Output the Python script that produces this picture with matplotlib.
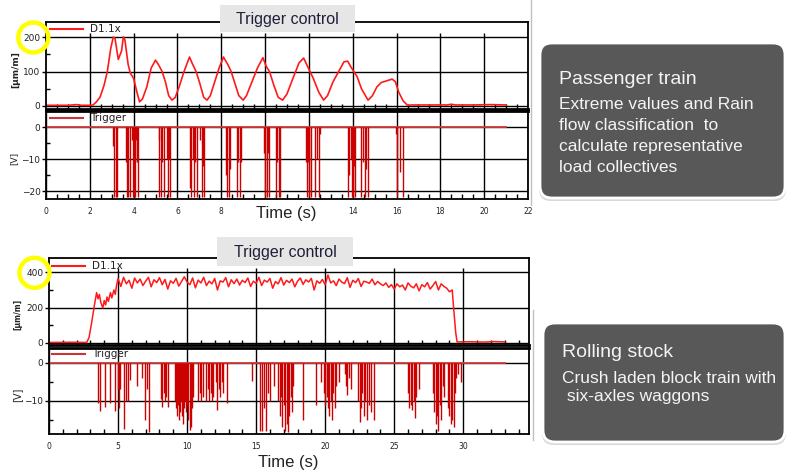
import numpy as np
import matplotlib
matplotlib.use("Agg")
import matplotlib.pyplot as plt
from matplotlib.transforms import Affine2D
from matplotlib.lines import Line2D
from matplotlib.patches import Rectangle, Circle, FancyBboxPatch

# ---- passenger train (upper chart) ----
pt_time = [0, 0.5, 1.0, 1.4, 1.6, 2.0, 2.15, 2.3, 2.47, 2.65, 2.8, 2.95, 3.07, 3.15, 3.3, 3.45,
           3.53, 3.6, 3.75, 3.85, 4.0, 4.15, 4.27, 4.4, 4.6, 4.8, 5.0, 5.15, 5.3, 5.45, 5.6,
           5.75, 5.9, 6.1, 6.3, 6.55, 6.7, 6.85, 7.0, 7.2, 7.35, 7.5, 7.7, 7.9, 8.1, 8.3,
           8.45, 8.6, 8.8, 9.0, 9.15, 9.4, 9.65, 9.9, 10.05, 10.2, 10.4, 10.6, 10.8, 11.0,
           11.3, 11.55, 11.76, 11.9, 12.05, 12.2, 12.45, 12.67, 12.85, 13.1, 13.4, 13.6,
           13.77, 13.9, 14.05, 14.2, 14.4, 14.7, 14.9, 15.1, 15.3, 15.5, 15.8, 15.95, 16.1,
           16.3, 16.5, 16.7, 17.5, 18.3, 18.5, 18.7, 19.5, 20.3, 21.0]
pt_strain = [2, 2, 2, 4, 2, 2, 3, 12, 26, 60, 100, 165, 200, 196, 135, 160,
             200, 192, 120, 95, 80, 40, 12, 20, 55, 110, 133, 118, 100, 70, 30,
             17, 25, 60, 100, 142, 120, 100, 70, 25, 17, 30, 70, 110, 142, 120,
             100, 70, 30, 17, 30, 70, 110, 140, 115, 100, 60, 25, 17, 35,
             85, 125, 139, 120, 100, 80, 40, 17, 30, 70, 105, 128,
             130, 115, 100, 85, 50, 17, 30, 55, 68, 72, 78, 70, 40,
             15, 2, 3, 3, 3, 5, 3, 3, 4, 3]
pt_trig_t = [3.08, 3.12, 3.18, 3.26, 3.66, 3.70, 3.76, 3.84, 3.92, 3.96, 4.00, 4.04, 4.08,
             4.12, 4.16, 4.22, 5.14, 5.18, 5.24, 5.30, 5.37, 5.52, 5.56, 5.62, 5.67, 6.59,
             6.63, 6.70, 6.76, 6.82, 6.89, 7.04, 7.10, 7.17, 7.23, 8.23, 8.28, 8.35, 8.42,
             8.72, 8.78, 8.84, 8.90, 9.95, 10.00, 10.08, 10.15, 10.20, 10.48, 10.55, 10.62,
             10.70, 11.85, 11.90, 11.95, 12.00, 12.08, 12.30, 12.36, 12.45, 12.52, 13.80,
             13.85, 13.90, 13.95, 14.00, 14.05, 14.10, 14.40, 14.47, 14.55, 14.62, 14.70,
             15.96, 16.00, 16.15, 16.30]
pt_trig_v = [-6, -22, -22, -22, -11, -22, -22, -22, -4, -22, -22, -11, -22,
             -4, -11, -22, -4, -22, -22, -11, -22, -10, -22, -10, -22, -19,
             -22, -10, -22, -11, -22, -4, -22, -12, -22, -15, -22, -22, -13,
             -22, -11, -22, -11, -8, -22, -22, -8, -22, -22, -11, -22,
             -22, -11, -22, -11, -22, -22, -22, -10, -22, -2, -22,
             -15, -10, -22, -22, -12, -22, -22, -11, -22, -13, -22,
             -2, -22, -14, -22]
pt_xlabels = ["0", "2", "4", "6", "8", "", "", "14", "16", "18", "20", "22"]

# ---- rolling stock (lower chart) ----
rs_head_t = [0, 1.5, 2.73, 2.9, 3.1, 3.3, 3.45, 3.55, 3.65, 3.75, 3.9, 4.0, 4.1, 4.2, 4.3,
             4.45, 4.55, 4.7, 4.8, 4.9]
rs_head_v = [2, 3, 2, 30, 120, 220, 285, 250, 275, 230, 198, 240, 215, 260, 235,
             285, 255, 300, 275, 330]
rs_plateau = [365, 320, 372, 335, 355, 310, 368, 340, 362, 325, 350, 372, 318, 358, 342, 370,
              330, 360, 305, 352, 338, 366, 322, 348, 375,
              345, 330, 368, 312, 356, 340, 372, 325, 350, 335, 365, 300, 352, 345, 370,
              318, 358, 336, 362, 328, 355, 342, 368, 320, 350,
              338, 372, 325, 356, 345, 365, 310, 348, 335, 370, 328, 355, 342, 362, 318,
              350, 368, 332, 358, 345, 366, 300, 352, 338, 360,
              330, 385, 340, 352, 325, 362, 345, 336, 370, 315, 355, 342, 365, 320, 350,
              345, 338, 362, 330, 348, 335, 325, 340, 315, 330,
              305, 335, 318, 328, 300, 340, 322, 312, 335, 295, 330, 318, 342, 305, 325,
              348, 300, 335, 320, 310, 290]
rs_tail_t = [29.2, 29.3, 29.45, 29.55, 30.5, 31.5, 32.2, 33.0]
rs_tail_v = [300, 200, 60, 5, 6, 4, 7, 5]
rs_trig_t = [3.57, 3.70, 4.05, 4.41, 4.78, 5.02, 5.08, 5.14, 5.43, 5.60, 5.70, 5.87, 6.35,
             6.71, 6.95, 7.07, 7.24, 8.10, 8.20, 8.30, 8.40, 8.50, 8.64, 9.13, 9.20, 9.28,
             9.35, 9.42, 9.50, 9.58, 9.65, 9.72, 9.80, 9.88, 9.95, 10.02, 10.10, 10.18,
             10.25, 10.32, 10.40, 10.77, 10.90, 11.00, 11.13, 11.40, 11.50, 11.60, 11.70,
             11.80, 11.90, 12.10, 12.20, 12.30, 12.40, 12.50, 12.60, 12.86, 14.67, 15.30,
             15.45, 15.55, 15.70, 15.85, 16.00, 16.30, 16.60, 16.70, 16.80, 16.90, 17.00,
             17.10, 17.20, 17.30, 17.40, 17.50, 17.60, 17.70, 18.40, 19.30, 19.70, 19.90,
             20.00, 20.10, 20.20, 20.30, 20.40, 20.50, 20.60, 20.70, 20.80, 21.00, 21.40,
             21.50, 21.60, 21.75, 21.90, 22.40, 22.50, 22.60, 22.70, 22.80, 22.90, 23.00,
             23.20, 23.35, 23.50, 26.00, 26.10, 26.20, 26.30, 26.40, 26.50, 26.60, 26.80,
             27.80, 27.90, 28.00, 28.10, 28.20, 28.30, 28.40, 28.50, 28.60, 28.90, 29.00,
             29.10, 29.20, 29.30, 29.40, 29.50, 29.65, 29.80]
rs_trig_v = [-10.6, -12.8, -11.5, -10.6, -12.8, -7, -12, -7, -17.3, -10, -10, -4.4, -6.2,
             -4, -15, -7, -18.1, -9.5, -11.5, -8, -10, -9, -11.5, -10, -12, -14,
             -11, -15, -13, -10, -14, -16, -12, -10, -13, -11, -15, -17.6,
             -17, -12, -9, -10, -8, -10, -9, -10, -7, -10, -8,
             -10, -9, -5, -12.5, -7, -9, -5, -8, -10.5, -4.8, -18,
             -18, -12, -18, -8, -10, -6, -10, -14, -9, -17, -11,
             -18, -16, -18.2, -14, -9, -13, -6, -15, -11, -5, -8,
             -11, -9, -12, -14, -10, -15, -8, -12, -6, -5, -3,
             -6, -8.5, -4, -7, -10, -15.5, -12, -8, -14, -10, -15,
             -11, -13, -15, -8, -12, -11, -12.5, -10, -14.5, -9, -7,
             -8, -13, -16, -14, -18, -11, -15, -6, -9, -12, -14,
             -16, -15, -17, -8, -4, -3, -5]

W, H = 788, 473
fig = plt.figure(figsize=(W / 100, H / 100), dpi=100)
PX = Affine2D().scale(1 / W, -1 / H).translate(0, 1) + fig.transFigure

RED = "#ff1a1a"
TRIG = "#cc0000"


def add_ax(l, t, r, b):
    return fig.add_axes([l / W, 1 - b / H, (r - l) / W, (b - t) / H])


def style(ax, xmax, xmaj, xmin, ylim, yticks, ymin, labels, xlab_size):
    ax.set_xlim(0, xmax)
    ax.set_ylim(*ylim)
    ax.set_xticks(xmaj)
    ax.set_xticks(xmin, minor=True)
    ax.set_yticks(yticks)
    ax.set_yticks(ymin, minor=True)
    for s in ax.spines.values():
        s.set_linewidth(1.3)
        s.set_color("black")
    ax.tick_params(axis="y", which="major", direction="out", length=3, width=1,
                   labelsize=6.5, pad=1, labelcolor="#222222")
    ax.tick_params(axis="y", which="minor", direction="in", length=3, width=1)
    ax.tick_params(axis="x", which="major", direction="out", length=0, pad=6,
                   labelsize=xlab_size, labelcolor="#222222", labelbottom=labels)
    ax.tick_params(axis="x", which="minor", direction="in", length=3.5, width=1)
    ax.grid(axis="y", color="black", lw=1)
    ax.set_axisbelow(True)


def fig_line(x0, x1, y, color, lw):
    fig.add_artist(Line2D([x0, x1], [y, y], color=color, lw=lw, transform=PX))


def fig_text(x, y, s, **kw):
    fig.text(x, y, s, transform=PX, **kw)


# ===== upper chart =====
ax1 = add_ax(46, 22, 528, 109)
style(ax1, 22, np.arange(0, 23, 2), np.arange(0, 22.01, 0.5), (-8.7, 243.5),
      [0, 100, 200], [50, 150], False, 5.5)
ax1.vlines(np.arange(2, 22, 2), -8.7, 212, color="black", lw=1)
ax1.plot(pt_time, pt_strain, color=RED, lw=1.2)
ax1.spines["bottom"].set_linewidth(2)

ax2 = add_ax(46, 111, 528, 199)
style(ax2, 22, np.arange(0, 23, 2), np.arange(0, 22.01, 0.5), (-22.5, 5.1),
      [-20, -10, 0], [-15, -5], True, 5.5)
ax2.set_xticklabels(pt_xlabels)
ax2.grid(axis="x", color="black", lw=1)
ax2.spines["top"].set_linewidth(2)
ax2.plot([0, 21], [0, 0], color="#d43c3c", lw=1.3)
ax2.vlines(pt_trig_t, pt_trig_v, 0, color=TRIG, lw=1)

# ===== lower chart =====
ax3 = add_ax(49, 258, 529, 345.5)
style(ax3, 34.76, np.arange(0, 31, 5), np.arange(0, 34.5, 1), (-15.4, 481.7),
      [0, 200, 400], [100, 300], False, 5.5)
ax3.vlines(np.arange(5, 31, 5), -15.4, 425, color="black", lw=1)
rs_time = rs_head_t + list(np.round(np.arange(5.0, 29.01, 0.2), 1)) + rs_tail_t
rs_strain = rs_head_v + rs_plateau + rs_tail_v
ax3.plot(rs_time, rs_strain, color=RED, lw=1.1)
ax3.spines["bottom"].set_linewidth(2)

ax4 = add_ax(49, 347.5, 529, 434)
style(ax4, 34.76, np.arange(0, 31, 5), np.arange(0, 34.5, 1), (-18.75, 4.06),
      [-10, 0], [-15, -5], True, 5.5)
ax4.grid(axis="x", color="black", lw=1)
ax4.spines["top"].set_linewidth(2)
ax4.plot([0, 33], [0, 0], color="#d43c3c", lw=1.3)
ax4.vlines(rs_trig_t, rs_trig_v, 0, color=TRIG, lw=1)

# ---- legends, labels ----
for x0, y, name, col in [(50, 29, "D1.1x", RED), (50, 117.7, "Trigger", "#cc3333"),
                         (52, 265.7, "D1.1x", RED), (52, 354.3, "Trigger", "#cc3333")]:
    fig_line(x0, x0 + 33, y, col, 1.5)
    fig_text(x0 + 40, y, name, fontsize=7.5, va="center", color="#222222")

fig_text(16, 69.5, "[µm/m]", fontsize=6.5, rotation=90, ha="center", va="center",
         fontweight="bold", color="#222222")
fig_text(14, 158.5, "[V]", fontsize=6.5, rotation=90, ha="center", va="center", color="#222222")
fig_text(17.5, 314, "[µm/m]", fontsize=5.5, rotation=90, ha="center", va="center",
         fontweight="bold", color="#222222")
fig_text(17.5, 395, "[V]", fontsize=7, rotation=90, ha="center", va="center", color="#222222")

for cx, cy in [(286, 213), (288, 462)]:
    fig_text(cx, cy, "Time (s)", fontsize=12, ha="center", va="center",
             family="Liberation Sans", color="#222222",
             bbox=dict(fc="white", ec="none", pad=2))

for (l, t, r, b) in [(220, 5, 355, 32), (217, 237, 353, 266)]:
    fig.add_artist(Rectangle((l, t), r - l, b - t, transform=PX, fc="#e6e6e6", ec="none"))
    fig_text((l + r) / 2, (t + b) / 2 + 1, "Trigger control", fontsize=11.5, ha="center",
             va="center", family="Liberation Sans", color="#1f1f3a")

for cx, cy in [(33.3, 37.5), (34.5, 272.8)]:
    fig.add_artist(Circle((cx, cy), 15, transform=PX, fill=False, ec="#ffff00", lw=3.2))

# thin separators at the right of the chart pictures
fig.add_artist(Line2D([531, 531], [0, 205], color="#c0c0c0", lw=1, transform=PX))
fig.add_artist(Line2D([533, 533], [310, 440], color="#c0c0c0", lw=1, transform=PX))

# ---- text boxes ----
for (l, t, r, b) in [(540, 43, 785, 198), (543, 323, 785, 442)]:
    fig.add_artist(FancyBboxPatch((l - 1, t + 1), r - l + 2, b - t + 2,
                                  boxstyle="round,pad=0,rounding_size=12",
                                  transform=PX, fc="#d8d8d8", ec="none"))
    fig.add_artist(FancyBboxPatch((l, t), r - l, b - t,
                                  boxstyle="round,pad=0,rounding_size=12",
                                  transform=PX, fc="#585858", ec="white", lw=2))

box_font = dict(family="Liberation Sans", color="#f4f4f4", va="baseline")
fig_text(559, 84, "Passenger train", fontsize=14, **box_font)
for y, s in [(109, "Extreme values and Rain"), (129.5, "flow classification  to"),
             (150.5, "calculate representative"), (172, "load collectives")]:
    fig_text(559, y, s, fontsize=12.5, **box_font)
fig_text(562, 357, "Rolling stock", fontsize=14, **box_font)
fig_text(562, 383, "Crush laden block train with", fontsize=12.5, **box_font)
fig_text(562, 401, " six-axles waggons", fontsize=12.5, **box_font)

fig.savefig("out.png", dpi=100)
